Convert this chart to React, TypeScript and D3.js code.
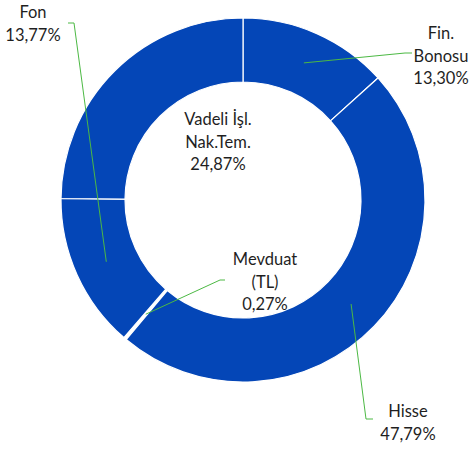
import React from 'react';
import * as d3 from 'd3';

const categories = ['Fin. Bonosu', 'Hisse', 'Mevduat (TL)', 'Fon', 'Vadeli İşl. Nak.Tem.'];
const shares = [13.3, 47.79, 0.27, 13.77, 24.87];
const labelLines = [
  ['Fin.', 'Bonosu', '13,30%'],
  ['Hisse', '47,79%'],
  ['Mevduat', '(TL)', '0,27%'],
  ['Fon', '13,77%'],
  ['Vadeli İşl.', 'Nak.Tem.', '24,87%'],
];

// label placement (text centre x, first baseline y, leader elbow)
const labelPos = [
  { x: 441, y: 39, elbow: [405, 53], end: [412, 53] },
  { x: 408, y: 417, elbow: [366, 419], end: [373, 419] },
  { x: 265, y: 265, elbow: [220, 280], end: [225, 280] },
  { x: 33, y: 18, elbow: [74, 23], end: [68, 23] },
  { x: 218, y: 125, elbow: null, end: null },
];

const W = 471;
const H = 449;
const cx = 243;
const cy = 200;
const outerR = 182;
const innerR = 118;
const lineH = 22.5;

export default function App() {
  const pie = d3.pie<number>().sort(null).value(d => d);
  const arcs = pie(shares);
  const arc = d3.arc<d3.PieArcDatum<number>>().innerRadius(innerR).outerRadius(outerR);
  const midArc = d3.arc<d3.PieArcDatum<number>>().innerRadius(150).outerRadius(150);

  return (
    <svg width={W} height={H} style={{ position: 'absolute', left: 0, top: 0 }}
      fontFamily="Lato, sans-serif">
      <g transform={`translate(${cx},${cy})`}>
        {arcs.map((a, i) => {
          // tiny slices read as a single white separator, like the original
          const tiny = a.endAngle - a.startAngle < 0.03;
          return (
            <path key={categories[i]} d={arc(a) || ''}
              fill={tiny ? '#fff' : '#0446B7'}
              stroke={tiny ? 'none' : '#fff'} strokeWidth={1.2} />
          );
        })}
      </g>
      {arcs.map((a, i) => {
        const p = labelPos[i];
        if (!p.elbow) return null;
        const [mx, my] = midArc.centroid(a);
        return (
          <polyline key={'l' + i}
            points={`${cx + mx},${cy + my} ${p.elbow[0]},${p.elbow[1]} ${p.end[0]},${p.end[1]}`}
            fill="none" stroke="#4CB944" strokeWidth={1} />
        );
      })}
      {labelLines.map((lines, i) => (
        <text key={'t' + i} textAnchor="middle" fontSize={16.5} fill="#1f1f1f">
          {lines.map((s, j) => (
            <tspan key={j} x={labelPos[i].x} y={labelPos[i].y + j * lineH}>{s}</tspan>
          ))}
        </text>
      ))}
    </svg>
  );
}
